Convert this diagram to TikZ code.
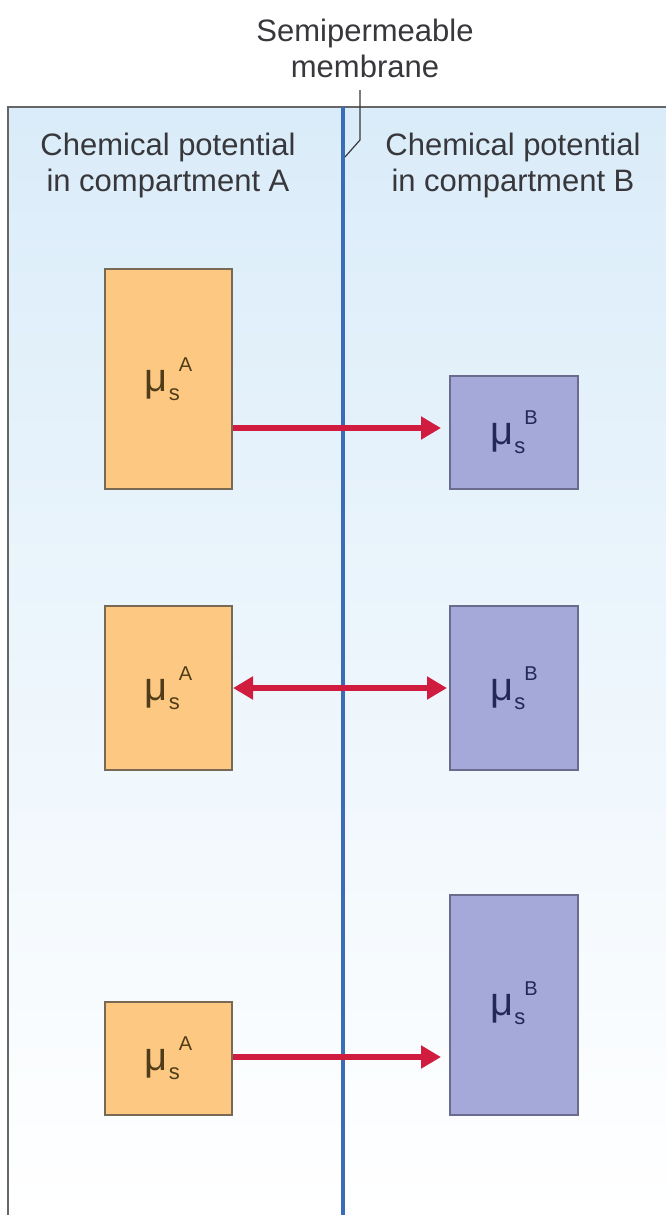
\documentclass[tikz,border=0pt]{standalone}
\usepackage{fontspec}
\setmainfont{Liberation Sans}
\usetikzlibrary{arrows.meta,calc}
\definecolor{bgtop}{RGB}{218,236,249}
\definecolor{bgbot}{RGB}{255,255,255}
\definecolor{memblue}{RGB}{58,108,184}
\definecolor{aorange}{RGB}{253,201,130}
\definecolor{aborder}{RGB}{120,105,85}
\definecolor{bpurple}{RGB}{164,169,217}
\definecolor{bborder}{RGB}{105,108,140}
\definecolor{arrred}{RGB}{208,28,62}
\definecolor{txt}{RGB}{55,55,60}
\definecolor{atxt}{RGB}{80,60,25}
\definecolor{btxt}{RGB}{35,40,90}
\tikzset{
  abox/.style={draw=aborder,fill=aorange,line width=2pt,minimum width=127pt,inner sep=0pt,text=atxt},
  bbox/.style={draw=bborder,fill=bpurple,line width=2pt,minimum width=128pt,inner sep=0pt,text=btxt},
  flow/.style={draw=arrred,line width=6pt,-{Triangle[length=20pt,width=22pt]}},
  flowboth/.style={draw=arrred,line width=6pt,{Triangle[length=20pt,width=22pt]}-{Triangle[length=20pt,width=22pt]}},
  caption/.style={align=center,text=txt,font=\fontsize{31}{36}\selectfont},
}
\newcommand{\mulabel}[1]{{\fontsize{40}{40}\selectfont μ}\kern1pt\raisebox{-9pt}{\fontsize{22}{22}\selectfont s}\kern-1pt\raisebox{20pt}{\fontsize{20}{20}\selectfont #1}}
\begin{document}
\begin{tikzpicture}[x=1pt,y=-1pt]
\useasboundingbox (0,0) rectangle (665,1215);
\shade[top color=bgtop,bottom color=bgbot] (8,107) rectangle (668,1213);
\draw[gray!80!black,line width=2pt] (8,1216) -- (8,107) -- (668,107);
\draw[memblue,line width=4pt] (343,107) -- (343,1216);
\node[caption] (title) at (365,48) {Semipermeable\\membrane};
\coordinate (lead1) at (360,90);
\coordinate (lead2) at (360,140);
\coordinate (lead3) at (345,157);
\draw[txt,line width=1.2pt] (lead1) -- (lead2) -- (lead3);
\node[caption] (capA) at (168,165) {Chemical potential\\in compartment A};
\node[caption] (capB) at (513,165) {Chemical potential\\in compartment B};
% row 1
\node[abox,minimum height=220pt] (A1) at (168.5,379) {\mulabel{A}};
\node[bbox,minimum height=113pt] (B1) at (514,432.5) {\mulabel{B}};
\draw[flow] (A1.east |- 0,428) -- ([xshift=-8pt]B1.west |- 0,428);
% row 2
\node[abox,minimum height=164pt] (A2) at (168.5,688) {\mulabel{A}};
\node[bbox,minimum height=164pt] (B2) at (514,688) {\mulabel{B}};
\draw[flowboth] (A2.east) -- ([xshift=-2pt]B2.west);
% row 3
\node[abox,minimum height=113pt] (A3) at (168.5,1058.5) {\mulabel{A}};
\node[bbox,minimum height=220pt] (B3) at (514,1005) {\raisebox{12pt}{\mulabel{B}}};
\draw[flow] (A3.east |- 0,1057) -- ([xshift=-8pt]B3.west |- 0,1057);
\end{tikzpicture}
\end{document}
